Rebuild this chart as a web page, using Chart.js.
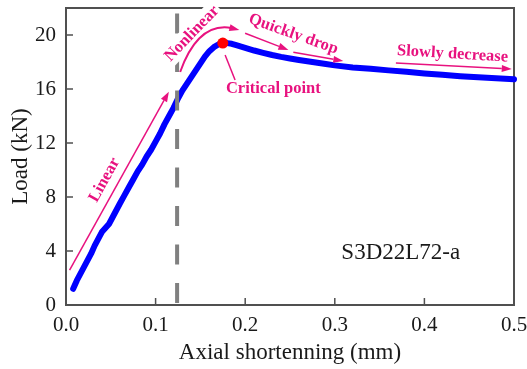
<!DOCTYPE html>
<html><head><meta charset="utf-8">
<script src="https://cdn.jsdelivr.net/npm/chart.js@4/dist/chart.umd.min.js"></script>
<style>html,body{margin:0;padding:0;background:#fff;}#wrap{width:527px;height:369px;position:relative;}</style>
</head><body><div id="wrap"><canvas id="c"></canvas></div>
<script>
// ---- data ----
const shortening = [0.008,0.012,0.016,0.020,0.024,0.028,0.032,0.036,0.040,0.044,0.048,0.052,0.056,0.060,0.065,0.070,0.075,0.080,0.085,0.090,0.095,0.100,0.105,0.110,0.115,0.120,0.125,0.130,0.135,0.140,0.145,0.150,0.155,0.160,0.165,0.170,0.175,0.180,0.185,0.190,0.200,0.210,0.220,0.230,0.240,0.250,0.260,0.275,0.290,0.300,0.320,0.340,0.360,0.380,0.400,0.420,0.440,0.460,0.480,0.500];
const load = [1.2,1.8,2.3,2.8,3.3,3.8,4.4,4.9,5.4,5.7,6.0,6.5,7.0,7.5,8.1,8.7,9.3,9.9,10.4,11.0,11.5,12.1,12.7,13.4,14.0,14.6,15.3,15.9,16.4,16.9,17.4,17.9,18.4,18.8,19.1,19.3,19.4,19.4,19.35,19.25,19.05,18.85,18.68,18.52,18.38,18.26,18.15,18.0,17.85,17.75,17.6,17.5,17.38,17.27,17.15,17.05,16.95,16.87,16.8,16.72];
const criticalX = [0.175];
const criticalY = [19.4];
const xTicks = [0, 0.1, 0.2, 0.3, 0.4, 0.5];
const xTickLabels = ['0.0','0.1','0.2','0.3','0.4','0.5'];
const yTicks = [0, 4, 8, 12, 16, 20];
const yTickLabels = ['0','4','8','12','16','20'];
const boundaryX = 0.124;
const specimenLabel = 'S3D22L72-a';
const xTitle = 'Axial shortenning (mm)';
const yTitle = 'Load (kN)';

const PINK = '#e8127f';
const SERIF = '"Liberation Serif", "Times New Roman", serif';

function arrow(ctx, x1, y1, x2, y2, head, hw) {
  const ang = Math.atan2(y2 - y1, x2 - x1);
  const bx = x2 - head * Math.cos(ang), by = y2 - head * Math.sin(ang);
  ctx.beginPath(); ctx.moveTo(x1, y1); ctx.lineTo(bx, by); ctx.stroke();
  ctx.beginPath(); ctx.moveTo(x2, y2);
  ctx.lineTo(bx + hw * Math.sin(ang), by - hw * Math.cos(ang));
  ctx.lineTo(bx - hw * Math.sin(ang), by + hw * Math.cos(ang));
  ctx.closePath(); ctx.fill();
}
function rotText(ctx, txt, x, y, deg, mask) {
  ctx.save(); ctx.translate(x, y); ctx.rotate(deg * Math.PI / 180);
  if (mask) {
    const w = ctx.measureText(txt).width + 4;
    const fs = ctx.fillStyle; ctx.fillStyle = '#ffffff';
    ctx.fillRect(-w / 2, -10, w, 20); ctx.fillStyle = fs;
  }
  ctx.fillText(txt, 0, 0); ctx.restore();
}
function noPad(s) { s.paddingTop = 0; s.paddingBottom = 0; s.paddingLeft = 0; s.paddingRight = 0; }

const framePlugin = {
  id: 'frame',
  beforeDatasetsDraw(chart) {
    const {ctx, chartArea: a, scales: {x, y}} = chart;
    ctx.save();
    ctx.strokeStyle = '#505050'; ctx.lineWidth = 2;
    ctx.strokeRect(a.left, a.top, a.right - a.left, a.bottom - a.top);
    ctx.lineWidth = 1.5;
    ctx.beginPath();
    xTicks.forEach(v => { const px = x.getPixelForValue(v); ctx.moveTo(px, a.bottom); ctx.lineTo(px, a.bottom - 7); });
    yTicks.forEach(v => { const py = y.getPixelForValue(v); ctx.moveTo(a.left, py); ctx.lineTo(a.left + 7, py); });
    ctx.stroke();
    ctx.restore();
  },
  afterDatasetsDraw(chart) {
    const {ctx, scales: {x, y}} = chart;
    const X = v => x.getPixelForValue(v), Y = v => y.getPixelForValue(v);
    ctx.save();
    // dashed boundary line
    ctx.strokeStyle = '#808080'; ctx.lineWidth = 4; ctx.setLineDash([20, 18.5]);
    ctx.beginPath(); ctx.moveTo(X(boundaryX), Y(21.6)); ctx.lineTo(X(boundaryX), Y(0)); ctx.stroke();
    ctx.setLineDash([]);
    // annotations
    ctx.strokeStyle = PINK; ctx.fillStyle = PINK; ctx.lineWidth = 1.5;
    ctx.font = 'bold 16.5px ' + SERIF;
    ctx.textAlign = 'center'; ctx.textBaseline = 'middle';
    // Nonlinear (mask first)
    rotText(ctx, 'Nonlinear', X(0.1405), Y(20.1), -46, true);
    ctx.lineWidth = 2;
    const sx = X(0.1274), sy = Y(17.26), cx = X(0.1475), cy = Y(20.96), ex = X(0.1935), ey = Y(20.37);
    ctx.beginPath(); ctx.moveTo(sx, sy); ctx.quadraticCurveTo(cx, cy, ex - 8, ey - 2); ctx.stroke();
    arrow(ctx, ex - 9, ey - 2.2, ex, ey, 10, 3.5);
    ctx.lineWidth = 1.5;
    // Linear
    arrow(ctx, X(0.004), Y(2.59), X(0.1148), Y(15.8), 10, 3.5);
    rotText(ctx, 'Linear', X(0.043), Y(9.26), -61);
    // Quickly drop
    arrow(ctx, X(0.1999), Y(20.13), X(0.2482), Y(18.89), 10, 3.5);
    arrow(ctx, X(0.2537), Y(18.72), X(0.3095), Y(18.07), 10, 3.5);
    rotText(ctx, 'Quickly drop', X(0.2537), Y(20.06), 19.5);
    // Slowly decrease
    arrow(ctx, X(0.3682), Y(17.93), X(0.4975), Y(17.48), 10, 3.5);
    rotText(ctx, 'Slowly decrease', X(0.4314), Y(18.59), 3.5);
    // Critical point
    ctx.beginPath(); ctx.moveTo(X(0.1776), Y(18.52)); ctx.lineTo(X(0.1887), Y(16.67)); ctx.stroke();
    ctx.fillText('Critical point', X(0.2314), Y(16.05));
    // specimen label
    ctx.fillStyle = '#1a1a1a'; ctx.font = '23px ' + SERIF;
    ctx.fillText(specimenLabel, X(0.3736), Y(3.83));
    ctx.restore();
  }
};

new Chart(document.getElementById('c'), {
  type: 'scatter',
  data: {
    datasets: [
      {
        data: criticalX.map((v, i) => ({x: v, y: criticalY[i]})),
        showLine: false, pointRadius: 5.5, pointBackgroundColor: '#ff0000',
        pointBorderWidth: 0, order: 0, clip: false
      },
      {
        data: shortening.map((v, i) => ({x: v, y: load[i]})),
        showLine: true, borderColor: '#0000ff', borderWidth: 6,
        borderCapStyle: 'round', borderJoinStyle: 'round',
        pointRadius: 0, order: 1, clip: false
      }
    ]
  },
  options: {
    responsive: true, maintainAspectRatio: false, animation: false,
    layout: {padding: {top: 8, right: 13, left: 0, bottom: 0}},
    plugins: {legend: {display: false}, tooltip: {enabled: false}},
    scales: {
      x: {
        type: 'linear', position: 'bottom', min: 0, max: 0.5,
        afterBuildTicks: s => { s.ticks = xTicks.map(v => ({value: v})); },
        afterFit: s => { s.height = 64; noPad(s); },
        grid: {display: false, drawTicks: false}, border: {display: false},
        ticks: {padding: 8, color: '#1a1a1a', font: {family: SERIF, size: 21},
                callback: (v, i) => xTickLabels[i]},
        title: {display: true, text: xTitle, color: '#1a1a1a', font: {family: SERIF, size: 23}, padding: {top: 0, bottom: 2}}
      },
      y: {
        type: 'linear', min: 0, max: 22,
        afterBuildTicks: s => { s.ticks = yTicks.map(v => ({value: v})); },
        afterFit: s => { s.width = 66; noPad(s); },
        grid: {display: false, drawTicks: false}, border: {display: false},
        ticks: {padding: 10, color: '#1a1a1a', font: {family: SERIF, size: 21},
                callback: (v, i) => yTickLabels[i]},
        title: {display: true, text: yTitle, color: '#1a1a1a', font: {family: SERIF, size: 23}, padding: {top: 7, bottom: 0}}
      }
    }
  },
  plugins: [framePlugin]
});
</script>
</body></html>
